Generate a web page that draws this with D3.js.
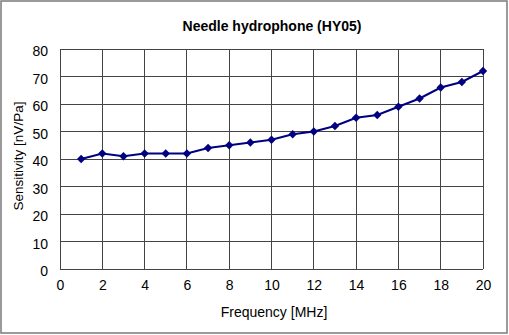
<!DOCTYPE html>
<html><head><meta charset="utf-8">
<script src="https://cdn.jsdelivr.net/npm/d3@7"></script>
<style>body{margin:0;background:#fff}svg{display:block}</style>
</head><body>
<svg id="c" width="509" height="335"></svg>
<script>
const frequency = [1,2,3,4,5,6,7,8,9,10,11,12,13,14,15,16,17,18,19,20];
const sensitivity = [40,42,41,42,42,42,44,45,46,47,49,50,52,55,56,59,62,66,68,72];
const xTicks = [0,2,4,6,8,10,12,14,16,18,20];
const yTicks = [0,10,20,30,40,50,60,70,80];
const title = "Needle hydrophone (HY05)";
const xLabel = "Frequency [MHz]";
const yLabel = "Sensitivity [nV/Pa]";

const svg = d3.select("#c");
const font = "Liberation Sans, Arial, sans-serif";
svg.append("rect").attr("x",1).attr("y",1).attr("width",506).attr("height",332)
  .attr("fill","#fff").attr("stroke","#7a7a7a").attr("stroke-width",1.5);

const L=60,R=483,T=49,B=269;
const x = d3.scaleLinear().domain([0,20]).range([L,R]);
const y = d3.scaleLinear().domain([0,80]).range([B,T]);

const g = svg.append("g");
g.selectAll(".vg").data(xTicks).join("line")
  .attr("x1",d=>x(d)).attr("x2",d=>x(d)).attr("y1",T).attr("y2",B)
  .attr("stroke","#444").attr("stroke-width",1).attr("shape-rendering","crispEdges");
g.selectAll(".hg").data(yTicks).join("line")
  .attr("y1",d=>y(d)).attr("y2",d=>y(d)).attr("x1",L).attr("x2",R)
  .attr("stroke","#444").attr("stroke-width",1).attr("shape-rendering","crispEdges");

const xa = svg.append("g").attr("transform",`translate(0,${B})`)
  .call(d3.axisBottom(x).tickValues(xTicks).tickSize(0).tickPadding(11));
xa.select(".domain").remove();
xa.selectAll("text").attr("font-family",font).attr("font-size",14).attr("fill","#000");
const ya = svg.append("g").attr("transform",`translate(${L},0)`)
  .call(d3.axisLeft(y).tickValues(yTicks).tickSize(0).tickPadding(12));
ya.select(".domain").remove();
ya.selectAll("text").attr("font-family",font).attr("font-size",14).attr("fill","#000").attr("dy","0.48em");

const pts = frequency.map((f,i)=>[f,sensitivity[i]]);
svg.append("path").datum(pts)
  .attr("d",d3.line().x(d=>x(d[0])).y(d=>y(d[1])))
  .attr("fill","none").attr("stroke","#000080").attr("stroke-width",2);
svg.selectAll(".m").data(pts).join("path")
  .attr("transform",d=>`translate(${x(d[0])},${y(d[1])})`)
  .attr("d","M0,-4.2L4.2,0L0,4.2L-4.2,0Z").attr("fill","#000080");

svg.append("text").attr("x",272).attr("y",31).attr("text-anchor","middle")
  .attr("font-family",font).attr("font-weight","bold").attr("font-size",14).text(title);
svg.append("text").attr("x",274).attr("y",317).attr("text-anchor","middle")
  .attr("font-family",font).attr("font-size",14).text(xLabel);
svg.append("text").attr("transform","translate(23,156) rotate(-90)").attr("text-anchor","middle")
  .attr("font-family",font).attr("font-size",13.5).text(yLabel);
</script>
</body></html>
